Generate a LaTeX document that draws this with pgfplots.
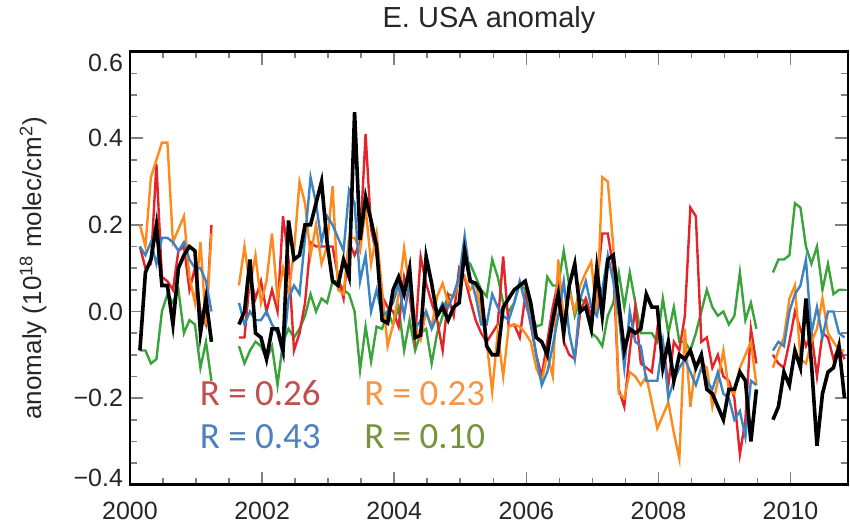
\documentclass[border=0pt]{standalone}
\usepackage{fontspec}
\setmainfont{Liberation Sans}
\newfontfamily\calibri{Carlito}
\usepackage{pgfplots}
\usepackage{pgfplotstable}
\pgfplotsset{compat=1.18}

\definecolor{sred}{HTML}{E5242A}
\definecolor{sorange}{HTML}{FF8A1C}
\definecolor{sblue}{HTML}{3A83C4}
\definecolor{sgreen}{HTML}{3AA33A}
\definecolor{tred}{HTML}{C0504D}
\definecolor{torange}{HTML}{F79646}
\definecolor{tblue}{HTML}{4F81BD}
\definecolor{tgreen}{HTML}{77933C}

% n = month index from Feb 2000; nan rows break the lines
\pgfplotstableread{
n    r      o      b      g      k
0    0.15   0.20   0.15  -0.09  -0.09
1    0.10   0.15   0.13  -0.09   0.09
2    0.11   0.31   0.16  -0.12   0.12
3    0.34   0.35   0.11  -0.11   0.20
4    0.08   0.39   0.17   0.00   0.06
5    0.07   0.39   0.17   0.04   0.06
6    0.05   0.16   0.16   0.02  -0.03
7    0.14   0.19   0.14   0.05   0.10
8    0.15   0.22   0.16  -0.05   0.13
9    0.05   0.08   0.12  -0.02   0.15
10   0.10   0.02   0.10  -0.03   0.14
11   0.00   0.16   0.10  -0.13  -0.05
12  -0.03  -0.03   0.07  -0.07   0.03
13   0.20   0.18   0.00  -0.16  -0.07
14   nan    nan    nan    nan    nan
18  -0.06   0.06   0.02  -0.08  -0.03
19  -0.06   0.15  -0.03  -0.12   0.00
20   0.08   0.06   0.00  -0.09   0.12
21   0.03   0.13  -0.02  -0.07  -0.05
22   0.07   0.02  -0.02  -0.08  -0.06
23   0.00   0.07   0.00  -0.11  -0.11
24   0.05   0.18  -0.03  -0.08  -0.04
25   0.00   0.03  -0.05  -0.17  -0.04
26   0.22   0.10  -0.10  -0.07  -0.09
27   0.12   0.04   0.03  -0.04   0.21
28  -0.09   0.14   0.06  -0.06   0.12
29  -0.05   0.30   0.04  -0.04   0.13
30   0.02   0.25   0.17  -0.01   0.20
31   0.16   0.13   0.31   0.04   0.20
32   0.15   0.20   0.25   0.00   0.25
33   0.15   0.11   0.16   0.03   0.30
34   0.15   0.15   0.22   0.02   0.16
35   0.15   0.29   0.20   0.07   0.07
36   0.08   0.05   0.17   0.07   0.06
37   0.03   0.04   0.14   0.05   0.12
38   0.16   0.17   0.28   0.04   0.08
39   0.13   0.17   0.25   0.00   0.46
40   0.16   0.14   0.07  -0.135  0.165
41   0.41   0.24   0.13  -0.035  0.265
42   0.19   0.11   0.00  -0.115  0.21
43   0.13   0.18   0.05  -0.035  0.15
44   0.035  0.05  -0.01  -0.04  -0.02
45   0.01  -0.08   0.00   0.00  -0.027
46   0.00  -0.03   0.02  -0.03   0.05
47  -0.035  0.04   0.065  0.01   0.08
48   0.08   0.146 -0.01  -0.09   0.04
49   0.035  0.05   0.07  -0.02   0.10
50  -0.06  -0.03  -0.04  -0.09  -0.06
51   0.127 -0.065 -0.02  -0.05  -0.055
52   0.065  0.00   0.00  -0.04   0.127
53   0.02  -0.035 -0.04  -0.12   0.065
54  -0.02   0.035 -0.01  -0.05  -0.01
55  -0.09   0.065  0.02  -0.01   0.01
56   0.035  0.02   0.01   0.04  -0.02
57  -0.01   0.035  0.04   0.035  0.01
58   0.10   0.07   0.08   0.07   0.02
59   0.08   0.08   0.175  0.12   0.14
60   0.027  0.05   0.08   0.11   0.07
61  -0.02   0.065  0.035  0.08   0.065
62  -0.05   0.00  -0.03   0.05   0.045
63  -0.07  -0.07  -0.03   0.035 -0.08
64  -0.05  -0.185  0.04   0.12  -0.10
65  -0.03  -0.05   0.01   0.08  -0.10
66   0.127 -0.15  -0.01   0.02   0.01
67  -0.035 -0.035 -0.02   0.00   0.03
68  -0.03  -0.03   0.02   0.02   0.05
69  -0.06  -0.035  0.07   0.065  0.06
70   0.035 -0.05   0.02   0.05   0.07
71  -0.03  -0.07  -0.02   0.00   0.02
72  -0.10  -0.13  -0.10  -0.035 -0.06
73  -0.15  -0.16  -0.17  -0.03  -0.07
74  -0.07  -0.10  -0.14   0.08  -0.10
75   0.01  -0.15  -0.08   0.06  -0.02
76   0.07   0.12  -0.01   0.06   0.04
77  -0.07  -0.02   0.07   0.14  -0.05
78  -0.10   0.05  -0.05   0.06   0.06
79  -0.11   0.00  -0.11  -0.01   0.11
80   0.00   0.06   0.03   0.03   0.00
81   0.03   0.09   0.07   0.02   0.01
82  -0.01   0.115  0.01  -0.05  -0.04
83   0.06  -0.01  -0.01  -0.06   0.10
84   0.18   0.31   0.05  -0.08  -0.01
85   0.18   0.30   0.13  -0.01   0.12
86   0.10   0.15   0.07   0.02   0.13
87  -0.18  -0.19  -0.01   0.09   0.02
88  -0.22  -0.20  -0.13   0.01  -0.09
89  -0.09  -0.14   0.00   0.09  -0.04
90   0.01  -0.15  -0.07   0.02  -0.05
91  -0.12  -0.17  -0.08  -0.05  -0.04
92  -0.13  -0.15  -0.16  -0.05   0.04
93  -0.14  -0.21  -0.16  -0.05   0.01
94  -0.04  -0.27  -0.16  -0.07   0.01
95  -0.07  -0.24  -0.07   0.03  -0.13
96  -0.17  -0.21  -0.20  -0.05  -0.07
97  -0.07  -0.28  -0.16   0.01  -0.16
98  -0.09  -0.34  -0.13  -0.07  -0.10
99  -0.01  -0.04  -0.11  -0.07  -0.11
100  0.24  -0.22  -0.14  -0.09  -0.09
101  0.22  -0.12  -0.17  -0.05  -0.13
102 -0.07  -0.12  -0.13   0.00  -0.10
103 -0.06  -0.13  -0.16   0.05  -0.18
104 -0.13  -0.22  -0.18   0.01  -0.19
105 -0.10  -0.16  -0.14  -0.01  -0.22
106 -0.15  -0.09  -0.19   0.00  -0.25
107 -0.16  -0.18  -0.20  -0.03  -0.18
108 -0.20  -0.19  -0.25  -0.01  -0.18
109 -0.33  -0.13  -0.23   0.09  -0.14
110 -0.25  -0.10  -0.29  -0.02  -0.16
111 -0.04  -0.07  -0.16   0.02  -0.30
112 -0.12  -0.17  -0.17  -0.04  -0.18
113  nan    nan    nan    nan    nan
115 -0.10  -0.13  -0.09   0.09  -0.25
116 -0.12  -0.09  -0.07   0.12  -0.22
117 -0.13  -0.06  -0.08   0.12  -0.14
118 -0.07   0.03   0.00   0.13  -0.17
119  0.00   0.06   0.04   0.25  -0.09
120 -0.04  -0.11   0.06   0.24  -0.13
121 -0.08  -0.12   0.12   0.15   0.03
122 -0.05  -0.07  -0.05   0.11  -0.12
123 -0.15  -0.04   0.01   0.15  -0.31
124 -0.05   0.03  -0.06   0.05  -0.19
125 -0.06  -0.05   0.00   0.11  -0.14
126 -0.11  -0.07   0.00   0.04  -0.13
127 -0.08  -0.09  -0.05   0.05  -0.08
128 -0.11  -0.09  -0.06   0.05  -0.20
}\anomaly

\begin{document}
\begin{tikzpicture}
\begin{axis}[
  at={(0,0)}, anchor=south west,
  scale only axis,
  width=359pt, height=216.5pt,
  xmin=2000, xmax=2010.87,
  ymin=-0.4, ymax=0.6,
  xtick={2000,2002,2004,2006,2008,2010},
  xticklabels={2000,2002,2004,2006,2008,2010},
  ytick={-0.4,-0.2,0,0.2,0.4,0.6},
  yticklabels={{\raisebox{3.5pt}[\height][\depth]{−0.4}},−0.2,0.0,0.2,0.4,{\raisebox{-5.5pt}[\height][\depth]{0.6}}},
  minor x tick num=3,
  minor y tick num=3,
  tick align=inside,
  tick pos=both,
  major tick length=6.5pt,
  minor tick length=3.3pt,
  axis line style={line width=1.2pt},
  every tick/.append style={line width=0.8pt},
  ticklabel style={font=\fontsize{12.5}{14}\selectfont, text=black!85},
  xticklabel style={yshift=-5pt},
  title={E. USA anomaly},
  title style={font=\fontsize{14.5}{16}\selectfont, text=black!85, at={(0.5,1)}, anchor=base, yshift=6pt},
  ylabel={anomaly (10\textsuperscript{18} molec/cm\textsuperscript{2})},
  ylabel style={font=\fontsize{13}{15}\selectfont, text=black!85, at={(axis description cs:-0.135,0.5)}, anchor=center},
  unbounded coords=jump,
  no markers,
]
\addplot[sgreen, line width=1.2pt] table[x expr=2000.15+\thisrow{n}/12, y=g] {\anomaly};
\addplot[sred, line width=1.2pt] table[x expr=2000.15+\thisrow{n}/12, y=r] {\anomaly};
\addplot[sorange, line width=1.2pt] table[x expr=2000.15+\thisrow{n}/12, y=o] {\anomaly};
\addplot[sblue, line width=1.2pt] table[x expr=2000.15+\thisrow{n}/12, y=b] {\anomaly};
\addplot[black, line width=1.8pt] table[x expr=2000.15+\thisrow{n}/12, y=k] {\anomaly};

\node[anchor=west, text=tred, font=\calibri\fontsize{18.5}{20}\selectfont] at (axis cs:2000.95,-0.189) {R = 0.26};
\node[anchor=west, text=tblue, font=\calibri\fontsize{18.5}{20}\selectfont] at (axis cs:2000.95,-0.288) {R = 0.43};
\node[anchor=west, text=torange, font=\calibri\fontsize{18.5}{20}\selectfont] at (axis cs:2003.44,-0.189) {R = 0.23};
\node[anchor=west, text=tgreen, font=\calibri\fontsize{18.5}{20}\selectfont] at (axis cs:2003.44,-0.288) {R = 0.10};
\end{axis}
\path (-65pt,-20pt) (360pt,241pt);
\end{tikzpicture}
\end{document}
